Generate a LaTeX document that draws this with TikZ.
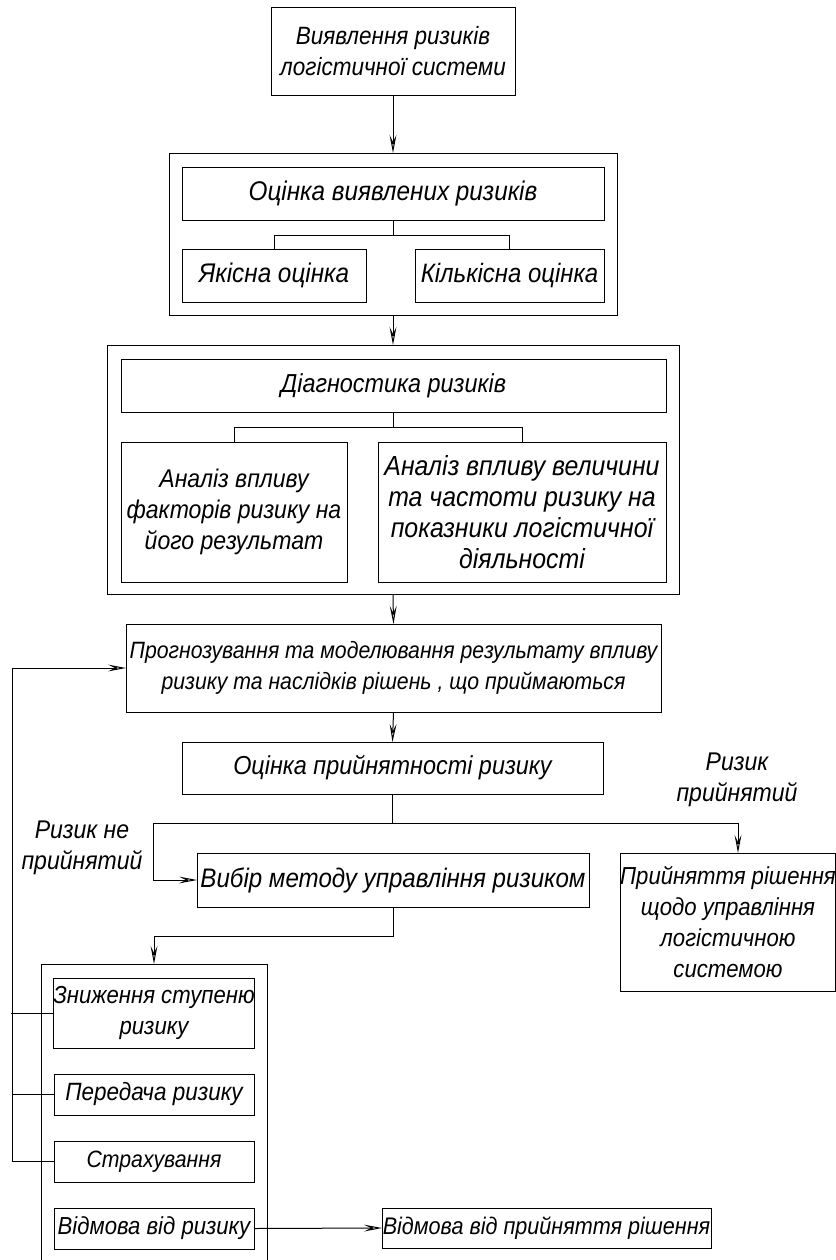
\documentclass[tikz,border=0pt]{standalone}
\usepackage{fontspec}
\setmainfont{Liberation Sans}[FakeStretch=0.9]
\usetikzlibrary{arrows.meta, calc}

\tikzset{
  fs/.style={font=\itshape\fontsize{#1}{15.5}\selectfont},
  box/.style={draw, line width=0.5pt, inner sep=0pt, outer sep=0pt, align=center, fs=12.5},
  lbl/.style={align=center, fs=12.8},
  arr/.style={-{Stealth[open, length=9pt, width=3.4pt, inset=3.5pt]}},
  conn/.style={line width=0.5pt}
}

\begin{document}
\begin{tikzpicture}[x=0.5pt, y=-0.5pt]
\useasboundingbox (0, 0) rectangle (836, 1260);

\node [box, minimum width=122pt, minimum height=44pt] (vyyav) at (393, 51) {Виявлення ризиків\\логістичної системи};

\node [box, minimum width=224pt, minimum height=81pt] (ocinka) at (393, 234) {};
\node [box, fs=13.5, minimum width=211pt, minimum height=26.5pt] (ocinkaV) at (393, 193.5) {Оцінка виявлених ризиків};
\node [box, fs=13.5, minimum width=92pt, minimum height=26.5pt] (yakisna) at (274, 275.5) {Якісна оцінка};
\node [box, fs=13.3, minimum width=94.5pt, minimum height=26.5pt] (kilkisna) at (509.5, 275.5) {Кількісна оцінка};

\node [box, minimum width=286pt, minimum height=124.5pt] (diag) at (393, 469.5) {};
\node [box, fs=13, minimum width=272.5pt, minimum height=26.5pt] (diagR) at (393.5, 385.5) {Діагностика ризиків};
\node [box, fs=12.8, minimum width=113pt, minimum height=70pt] (analiz1) at (234, 512) {Аналіз впливу\\факторів ризику на\\його результат};
\node [box, fs=13.8, minimum width=144pt, minimum height=70pt] (analiz2) at (522, 512) {Аналіз впливу величини\\та частоти ризику на\\показники логістичної\\діяльності};

\node [box, fs=11.8, minimum width=267.5pt, minimum height=44pt] (prognoz) at (393.5, 668) {Прогнозування та моделювання результату впливу\\ризику та наслідків рішень , що приймаються};
\node [box, fs=13, minimum width=210.5pt, minimum height=26pt] (pryin) at (392.5, 768) {Оцінка прийнятності ризику};
\node [box, fs=13.4, minimum width=196pt, minimum height=27pt] (vybir) at (393, 880) {Вибір методу управління ризиком};
\node [box, fs=12.3, minimum width=107pt, minimum height=69pt] (rishennya) at (728, 922) {Прийняття рішення\\щодо управління\\логістичною\\системою};

\node [box, minimum width=113pt, minimum height=158pt] (metody) at (154, 1122) {};
\node [box, fs=12.3, minimum width=100pt, minimum height=35pt] (znyzh) at (154, 1013) {Зниження ступеню\\ризику};
\node [box, fs=12.5, minimum width=100pt, minimum height=20.5pt] (peredacha) at (154, 1094.5) {Передача ризику};
\node [box, fs=11.8, minimum width=100pt, minimum height=20.5pt] (strakh) at (154, 1161.5) {Страхування};
\node [box, fs=12.3, minimum width=100pt, minimum height=20.5pt] (vidmova) at (154, 1228.5) {Відмова від ризику};
\node [box, fs=12, minimum width=164.5pt, minimum height=20pt] (vidmovaR) at (546.5, 1228) {Відмова від прийняття рішення};

\node [lbl] (nepryin) at (82, 848) {Ризик не\\прийнятий};
\node [lbl] (tak) at (737, 780) {Ризик\\прийнятий};

\draw [conn, arr] (vyyav.south) -- (ocinka.north);
\draw [conn] (ocinkaV.south) -- ++(0, 15);
\draw [conn] (yakisna.north) -- ++(0, -14) -| (kilkisna.north);
\draw [conn, arr] (ocinka.south) -- (diag.north);
\draw [conn] (diagR.south) -- ++(0, 15);
\draw [conn] (analiz1.north) -- ++(0, -15) -| (analiz2.north);
\draw [conn, arr] (diag.south) -- (prognoz.north);
\draw [conn, arr] (prognoz.south) -- (pryin.north);

\coordinate (split) at ($(pryin.south) + (0, 29)$);
\draw [conn] (pryin.south) -- (split);
\draw [conn, arr] (split) -| ([xshift=5pt]rishennya.north);
\draw [conn, arr] (split) -- ++(-239, 0) |- (vybir.west);
\draw [conn, arr] (vybir.south) -- ++(0, 29) -| (metody.north);

\draw [conn, arr] (strakh.west) -- ++(-42, 0) |- (prognoz.west);
\draw [conn] (znyzh.west) -- ++(-42, 0);
\draw [conn] (peredacha.west) -- ++(-42, 0);
\draw [conn, arr] (vidmova.east) -- (vidmovaR.west);
\end{tikzpicture}
\end{document}
